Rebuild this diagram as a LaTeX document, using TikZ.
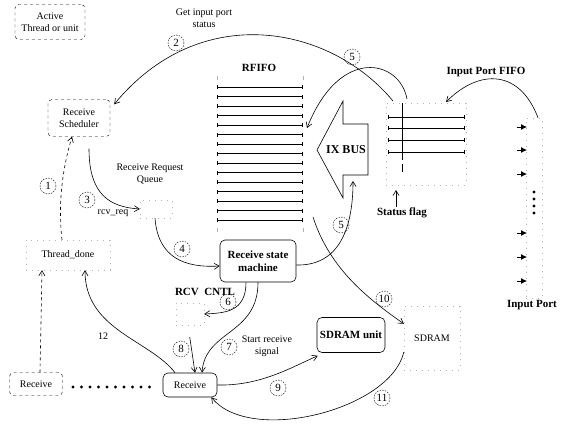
\documentclass[tikz,border=0pt]{standalone}
\usepackage{fontspec}
\setmainfont{Liberation Serif}
\usetikzlibrary{arrows.meta,positioning,calc}
\tikzset{
  thr/.style   = {rectangle, rounded corners=4pt, draw, dashed, align=center,
                  font=\fontsize{10}{12}\selectfont, inner sep=2pt},
  unit/.style  = {rectangle, rounded corners=5pt, draw, semithick, align=center,
                  font=\bfseries\fontsize{11}{13}\selectfont, inner sep=2pt},
  faint/.style = {rectangle, draw=black!30, dash pattern=on 1pt off 5pt,
                  align=center, font=\fontsize{10}{12}\selectfont},
  num/.style   = {circle, draw, dash pattern=on 1.5pt off 1.2pt, minimum size=16pt,
                  inner sep=0pt, font=\fontsize{11}{13}\selectfont},
  flow/.style  = {-{Straight Barb[length=5pt,width=6pt]}, semithick},
  lbl/.style   = {font=\fontsize{10}{12}\selectfont, inner sep=1pt, align=center},
  blbl/.style  = {font=\bfseries\fontsize{11}{13}\selectfont, inner sep=1pt, align=center},
  fline/.style = {{Bar[width=4pt]}-{Bar[width=4pt]}, semithick},
}
\begin{document}
\begin{tikzpicture}[x=1pt,y=-1pt]
  \useasboundingbox (0,0) rectangle (564,423);

  % --- threads and units
  \node[thr, minimum width=70pt, minimum height=35pt] (active) at (50,22) {Active\\Thread or unit};
  \node[thr, minimum width=62pt, minimum height=37pt] (sched) at (79,118) {Receive\\Scheduler};
  \node[faint, minimum width=84pt, minimum height=30pt] (thdone) at (68,255) {Thread\_done};
  \node[faint, minimum width=32pt, minimum height=18pt] (queue) at (156,209) {};
  \node[unit, minimum width=76pt, minimum height=42pt] (rsm) at (258,261) {Receive state\\machine};
  \node[faint, minimum width=28pt, minimum height=22pt] (rcvcntl) at (190,314) {};
  \node[unit, font=\fontsize{10}{12}\selectfont, minimum width=54pt, minimum height=24pt] (recv) at (190,385) {Receive};
  \node[thr, minimum width=53pt, minimum height=23pt] (lrecv) at (36,384) {Receive};
  \node[unit, minimum width=68pt, minimum height=35pt] (sunit) at (351,335) {SDRAM unit};
  \node[faint, minimum width=56pt, minimum height=64pt] (sdram) at (432,338) {SDRAM};
  \node[faint, minimum width=16pt, minimum height=180pt] (inport) at (534,208) {};
  \node[faint, minimum width=80pt, minimum height=82pt] (sfbox) at (426,144) {};

  % --- labels
  \node[lbl] (getlbl) at (204,18) {Get input port\\status};
  \node[blbl] (rfifolbl) at (259,68) {RFIFO};
  \node[lbl] (queuelbl) at (150,174) {Receive Request\\Queue};
  \node[lbl] (rcvreq) at (113,213) {rcv\_req};
  \node[blbl] (cntllbl) at (205,292) {RCV\ \ CNTL};
  \node[lbl] (startlbl) at (267,346) {Start receive\\signal};
  \node[blbl] (flaglbl) at (402,213) {Status flag};
  \node[blbl] (ipfifolbl) at (486,72) {Input Port FIFO};
  \node[blbl] (iplbl) at (532,305) {Input Port};

  % --- RFIFO
  \foreach \k in {0,...,14}{
    \draw[fline] (217,{87+9.5*\k}) -- (303,{87+9.5*\k});
  }
  \draw[black!30] (217,76) -- (217,80) (303,76) -- (303,80);
  \draw[black!30] (217,228) -- (217,232) (303,228) -- (303,232);

  % --- IX BUS
  \draw[semithick] (317,150) -- (343,101) -- (343,124) -- (368,124) -- (368,175)
    -- (343,175) -- (343,198) -- cycle;
  \node[blbl, font=\bfseries\fontsize{12}{14}\selectfont] (ixbus) at (346,150) {IX BUS};

  % --- status flag FIFO
  \draw[semithick] (402,103) -- (402,160);
  \draw[semithick] (402,164) -- (402,172);
  \foreach \y in {117,128,140,152}{
    \draw[fline] (388,\y) -- (465,\y);
  }

  % --- input port
  \foreach \y in {127,150,174,233,257,281}{
    \draw[-{Latex[length=6pt,width=6pt]}, thick] (517,\y) -- (527,\y);
  }
  \foreach \y in {192,199,206,213}{
    \fill (534,\y) circle (1.6pt);
  }

  % --- dots between receive threads
  \foreach \k in {0,...,9}{
    \fill ({73+8.5*\k},387) circle (1.6pt);
  }

  % --- free ends
  \coordinate (sfa) at (393,101);
  \coordinate (sfb) at (407,99);
  \coordinate (fiforight) at (307,128);
  \coordinate (fifolow) at (313,217);
  \coordinate (ixbot) at (353,181);
  \coordinate (ipfifo) at (446,102);
  \coordinate (flagtip) at (396,190);

  % --- connectors
  \draw[flow, dashed] ([xshift=-6pt]thdone.north) .. controls (58,205) and (62,170)
    .. ([xshift=-7pt]sched.south);
  \draw[flow] (sfa) .. controls (330,25) and (200,0) .. ([shift={(4pt,-5pt)}]sched.north east);
  \draw[flow, shorten <=12pt] ([xshift=10pt]sched.south) .. controls (89,195) and (110,207) .. (queue.west);
  \draw[flow] ([xshift=-1pt]queue.south) .. controls (158,258) and (185,268) .. ([yshift=-5pt]rsm.west);
  \draw[flow] (sfb) .. controls (400,60) and (340,45) .. (fiforight);
  \draw[flow] ([yshift=-4pt]rsm.east) .. controls (335,266) and (353,235) .. (ixbot);
  \draw[flow] ([xshift=-12pt]rsm.south) .. controls (246,312) and (225,313) .. (rcvcntl.east);
  \draw[flow] (rsm.south) .. controls (258,335) and (205,330) .. ([xshift=12pt]recv.north);
  \draw[flow, shorten <=12pt] ([xshift=-2pt]rcvcntl.south) -- ([xshift=5pt]recv.north);
  \draw[flow] (recv.east) .. controls (260,386) and (290,368) .. ([shift={(1pt,-3pt)}]sunit.south west);
  \draw[flow] (fifolow) .. controls (330,270) and (370,300) .. ([yshift=-18pt]sdram.north west);
  \draw[flow] ([yshift=18pt]sdram.south west) .. controls (390,410) and (250,445)
    .. ([xshift=-6pt]recv.south east);
  \draw[flow] ([xshift=-15pt]recv.north) .. controls (150,340) and (85,330) .. ([xshift=17pt]thdone.south);
  \draw[flow, dashed] ([xshift=4pt]lrecv.north) -- ([xshift=-26pt]thdone.south);
  \draw[flow] ([xshift=-6pt]flaglbl.north) -- (flagtip);
  \draw[flow] ([xshift=4pt]inport.north) .. controls (520,70) and (480,68) .. (ipfifo);

  % --- step numbers
  \node[num] (n1) at (48,186) {1};
  \node[num] (n2) at (176,43) {2};
  \node[num] (n3) at (87,200) {3};
  \node[num] (n4) at (182,249) {4};
  \node[num] (n5a) at (352,57) {5};
  \node[num] (n5b) at (341,225) {5};
  \node[num] (n6) at (228,302) {6};
  \node[num] (n7) at (229,347) {7};
  \node[num] (n8) at (181,349) {8};
  \node[num] (n9) at (278,388) {9};
  \node[num] (n10) at (384,299) {10};
  \node[num] (n11) at (382,398) {11};
  \node[lbl] (n12) at (103,336) {12};
\end{tikzpicture}
\end{document}
